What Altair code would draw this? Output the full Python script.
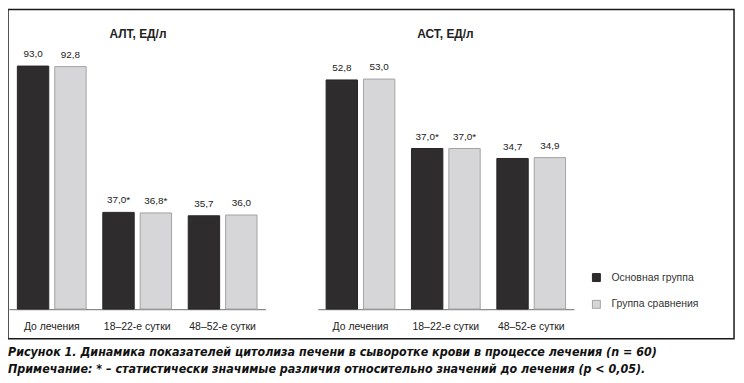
import altair as alt
import pandas as pd

categories = ["До лечения", "18–22-е сутки", "48–52-е сутки"]
groups = ["Основная группа", "Группа сравнения"]

alt_main = [93.0, 37.0, 35.7]
alt_comp = [92.8, 36.8, 36.0]
alt_sig = [False, True, False]

ast_main = [52.8, 37.0, 34.7]
ast_comp = [53.0, 37.0, 34.9]
ast_sig = [False, True, False]

panel_titles = ["АЛТ, ЕД/л", "АСТ, ЕД/л"]
caption_lines = [
    "Рисунок 1. Динамика показателей цитолиза печени в сыворотке крови в процессе лечения (n = 60)",
    "Примечание: * – статистически значимые различия относительно значений до лечения (p < 0,05).",
]

DARK = "#2e2c2d"
LIGHT = "#d6d6d8"
FONT = "Liberation Sans"

LEGEND = alt.Legend(title=None, orient="none", legendX=588, legendY=265,
                    symbolType="square", symbolSize=64, symbolStrokeWidth=1,
                    labelFont=FONT, labelFontSize=10.5, labelColor="#333",
                    labelOffset=10, rowPadding=14, padding=0)


def make_df(main, comp, sig):
    rows = []
    for i, c in enumerate(categories):
        for g, v in zip(groups, (main[i], comp[i])):
            lab = f"{v:.1f}".replace(".", ",") + ("*" if sig[i] else "")
            rows.append({"cat": c, "group": g, "value": v, "label": lab})
    return pd.DataFrame(rows)


def panel(df, xrange, ymax, yrange, title, title_x):
    x = alt.X("cat:N", sort=categories, title=None,
              scale=alt.Scale(range=xrange, paddingInner=0.195, paddingOuter=0.098),
              axis=alt.Axis(orient="bottom", offset=-30, ticks=False, labelAngle=0,
                            labelPadding=13, labelFont=FONT, labelFontSize=10.5,
                            labelColor="#222", domainColor="#8a8a8a", domainWidth=1.2,
                            grid=False))
    xo = alt.XOffset("group:N", sort=groups,
                     scale=alt.Scale(paddingInner=0.16, paddingOuter=0))
    y = alt.Y("value:Q", scale=alt.Scale(domain=[0, ymax], range=yrange, nice=False),
              axis=None)
    color = alt.Color("group:N", sort=groups,
                      scale=alt.Scale(domain=groups, range=[DARK, LIGHT]), legend=LEGEND)
    stroke = alt.Stroke("group:N", sort=groups,
                        scale=alt.Scale(domain=groups, range=["#262425", "#a2a2a2"]),
                        legend=LEGEND)
    bars = alt.Chart(df).mark_bar(strokeWidth=1).encode(
        x=x, xOffset=xo, y=y, color=color, stroke=stroke)
    labels = alt.Chart(df).mark_text(baseline="bottom", dy=-7, font=FONT,
                                     fontSize=10, color="#222").encode(
        x=x, xOffset=xo, y=y, text="label:N")
    ttl = alt.Chart(pd.DataFrame({"t": [title]})).mark_text(
        font=FONT, fontSize=12, fontWeight="bold", color="#222", baseline="middle").encode(
        x=alt.value(title_x), y=alt.value(25), text="t:N")
    return alt.layer(bars, labels, ttl)


left = panel(make_df(alt_main, alt_comp, alt_sig), [1, 259.5], 100, [302, 38.6],
             panel_titles[0], 131)
right = panel(make_df(ast_main, ast_comp, ast_sig), [312.3, 570.6], 60, [302, 39.5],
              panel_titles[1], 441)

cap_df = pd.DataFrame({"t": caption_lines, "row": [0, 1]})
caption = alt.Chart(cap_df).mark_text(
    font="DejaVu Sans Condensed", fontSize=12.5, fontWeight="bold", fontStyle="italic",
    align="left", baseline="alphabetic", color="#111").encode(
    x=alt.value(0),
    y=alt.Y("row:O", scale=alt.Scale(range=[349, 366], padding=0), axis=None),
    text="t:N")

chart = alt.layer(left, right, caption).resolve_scale(
    x="independent", y="independent", xOffset="independent"
).resolve_axis(x="independent").properties(
    width=732, height=332,
    autosize=alt.AutoSizeParams(type="none"),
    padding={"left": 0, "top": 0, "right": 2, "bottom": 40},
    background="white",
).configure_view(stroke="#1a1a1a", strokeWidth=1.5)

chart.save("out.html", embed_options={"renderer": "svg", "actions": False})
